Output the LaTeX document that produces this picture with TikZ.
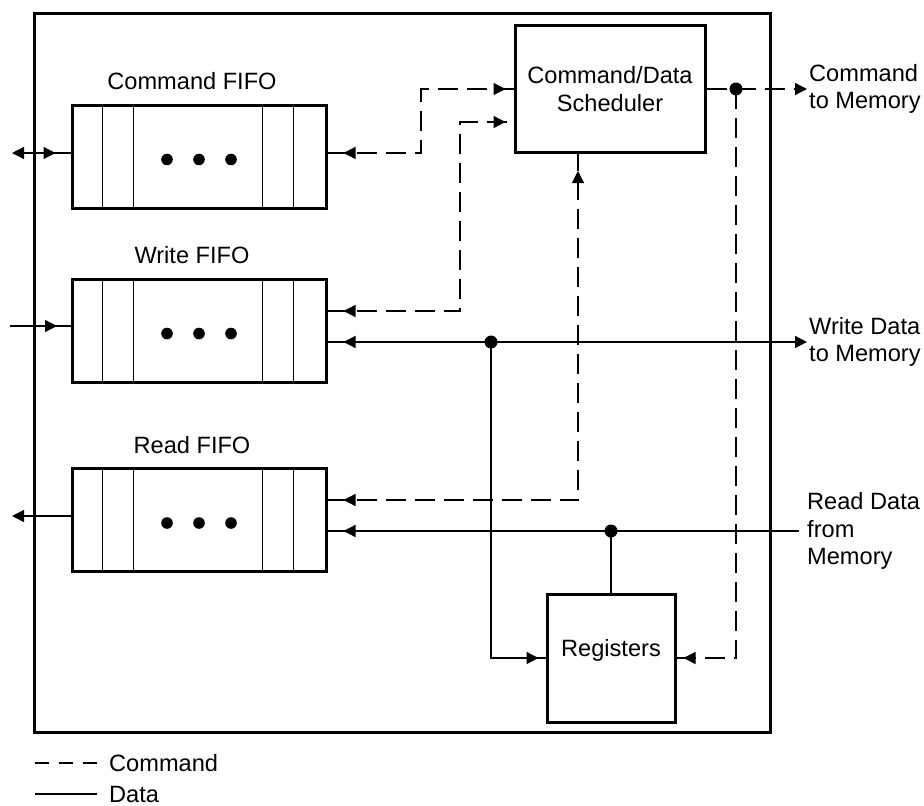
\documentclass[tikz,border=0pt]{standalone}
\usepackage{fontspec}
\setmainfont{Liberation Sans}
\usepackage{tikz}
\usetikzlibrary{arrows.meta}
\usetikzlibrary{calc}
\usetikzlibrary{decorations.markings}

\begin{document}
\begin{tikzpicture}[x=1pt, y=-1pt, font=\fontsize{23.6}{27.5}\selectfont,
    >={Triangle[length=12pt, width=12pt]},
    box/.style={draw, line width=3pt, inner sep=0pt},
    wire/.style={line width=1.3pt},
    cmdwire/.style={wire, dash pattern=on 20pt off 9pt},
    tiphere/.style={postaction={decorate, decoration={markings, mark=at position #1 with {\pgfsetdash{}{0pt}\arrow{Triangle[length=12pt, width=12pt]}}}}},
    tipback/.style={postaction={decorate, decoration={markings, mark=at position #1 with {\pgfsetdash{}{0pt}\arrowreversed{Triangle[length=12pt, width=12pt]}}}}}] % memory interface

      \useasboundingbox (0,0) rectangle (924,806);
      \node [box, minimum width=736pt, minimum height=719pt] (chip) at (402,372.5) {};

      \foreach \n/\y/\t in {cmdfifo/156.5/Command FIFO, wrfifo/330.5/Write FIFO, rdfifo/520/Read FIFO} {
        \node [box, minimum width=254pt, minimum height=103pt] (\n) at (199,\y) {};
        \node (\n-lbl) at ($(\n.north)+(-7,-22)$) {\t};
        \foreach \dx in {32,63,192,223}
          \draw [wire] ($(\n.north west)+(\dx,0)$) -- ($(\n.south west)+(\dx,0)$);
        \foreach \dx in {-32,0,32}
          \fill ($(\n.center)+(\dx,3)$) circle (5.8);
      }

      \node [box, minimum width=190pt, minimum height=127pt, align=center] (sched) at (610,89) {Command/Data\\Scheduler};
      \node [box, minimum width=128pt, minimum height=128pt, text height=17pt, text depth=20pt] (regs) at (611,658) {Registers};

      % left side
      \coordinate (cmdin) at (12,153);
      \coordinate (wrin) at (10,326);
      \coordinate (rdout) at (12,516);
      \draw [wire, ->, tipback=15pt] (cmdin -| cmdfifo.west) -- (cmdin);
      \draw [wire, tiphere=47pt] (wrin) -- (wrin -| wrfifo.west);
      \draw [wire, ->] (rdout -| rdfifo.west) -- (rdout);

      % command paths
      \coordinate (c1) at (421,89);
      \coordinate (c2) at (460,122);
      \coordinate (c2b) at (460,311);
      \coordinate (c3) at (578,500);
      \draw [cmdwire, tipback=16pt, tiphere=-8pt] (cmdin -| cmdfifo.east) -| (c1) -- (c1 -| sched.west);
      \draw [cmdwire, tipback=16pt, tiphere=-8pt] (c2b -| wrfifo.east) -- (c2b) -- (c2) -- (c2 -| sched.west);
      \draw [cmdwire, tipback=16pt, tiphere=-17pt] (c3 -| rdfifo.east) -- (c3) -- (c3 |- sched.south);

      \coordinate (sj) at (736,89);
      \coordinate (cout) at (807,89);
      \draw [cmdwire, ->] (sched.east) -- (cout);
      \fill (sj) circle (6.5);
      \draw [cmdwire, tiphere=-7pt] (sj) |- (regs.east);

      % data paths
      \coordinate (wj) at (491,342);
      \coordinate (wout) at (807,342);
      \draw [wire, ->, tipback=16pt] (wj -| wrfifo.east) -- (wout);
      \fill (wj) circle (6.5);
      \draw [wire, tiphere=-7pt] (wj) |- (regs.west);

      \coordinate (rj) at (611,531);
      \coordinate (rin) at (799,531);
      \draw [wire, tiphere=-16pt] (rin) -- (rj -| rdfifo.east);
      \fill (rj) circle (6.5);
      \draw [wire] (rj) -- (regs.north);

      \node [anchor=west, align=left, inner sep=0pt] (cmdmem) at (809,89) {Command\\to Memory};
      \node [anchor=west, align=left, inner sep=0pt] (wrmem) at (809,342) {Write Data\\to Memory};
      \node [anchor=west, align=left, inner sep=0pt] (rdmem) at (807,531) {Read Data\\from\\Memory};

      % legend
      \coordinate (lgc) at (35,763);
      \coordinate (lgd) at (35,794);
      \node [anchor=west, inner sep=0pt] (lgcmd) at (109,763) {Command};
      \node [anchor=west, inner sep=0pt] (lgdata) at (109,794) {Data};
      \draw [wire, dash pattern=on 14pt off 10pt] (lgc) -- ($(lgcmd.west)+(-12,0)$);
      \draw [wire] (lgd) -- ($(lgdata.west)+(-12,0)$);

    \end{tikzpicture}
\end{document}
